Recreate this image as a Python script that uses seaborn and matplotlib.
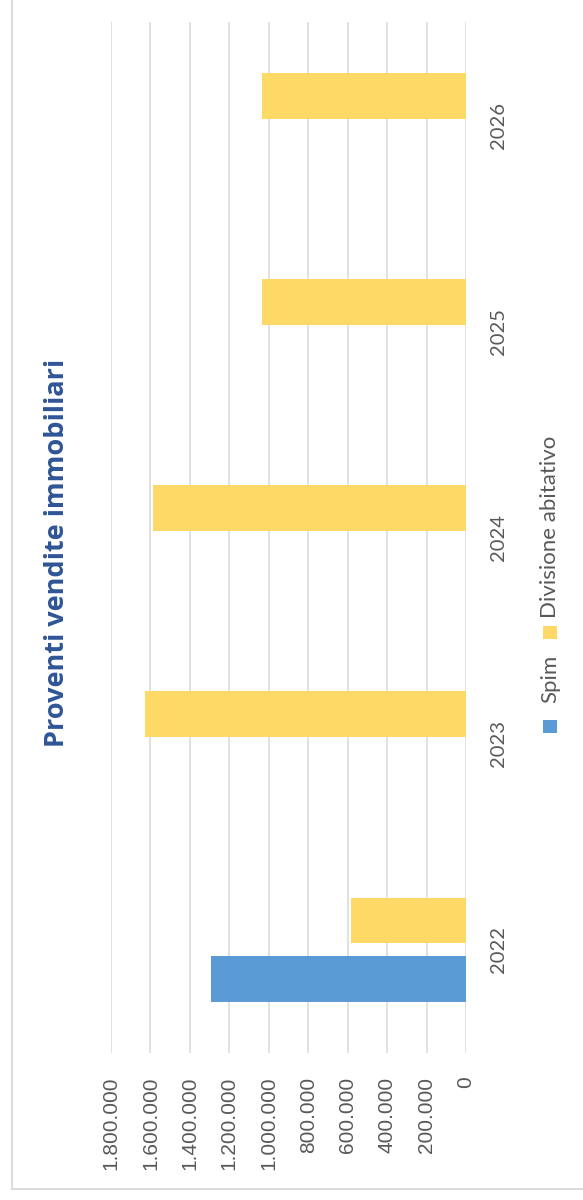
import matplotlib
matplotlib.use("Agg")
import matplotlib.pyplot as plt
from matplotlib.patches import Rectangle
from matplotlib.lines import Line2D
import seaborn as sns
import pandas as pd

# --- data -------------------------------------------------------------
anni = ["2022", "2023", "2024", "2025", "2026"]
spim = [1_293_000, None, None, None, None]
divisione_abitativo = [583_000, 1_628_000, 1_586_000, 1_035_000, 1_033_000]
serie = ["Spim", "Divisione abitativo"]
colori = {"Spim": "#5B9BD5", "Divisione abitativo": "#FFD966"}
titolo = "Proventi vendite immobiliari"
valori_asse = [0, 200_000, 400_000, 600_000, 800_000, 1_000_000,
               1_200_000, 1_400_000, 1_600_000, 1_800_000]

rows = []
for anno, s, d in zip(anni, spim, divisione_abitativo):
    if s is not None:
        rows.append({"anno": anno, "serie": "Spim", "valore": s})
    if d is not None:
        rows.append({"anno": anno, "serie": "Divisione abitativo", "valore": d})
df = pd.DataFrame(rows)

sns.set_theme(style="white")
plt.rcParams["font.family"] = ["Lato", "DejaVu Sans"]

W, H = 583, 1200
fig = plt.figure(figsize=(W / 100, H / 100), dpi=100)
fig.patch.set_facecolor("white")

def fx(px):
    return px / W

def fy(py):
    return 1 - py / H

# plot area (chart drawn rotated: values run right-to-left, years bottom-to-top)
ax = fig.add_axes([fx(111), fy(1053), fx(466) - fx(111), fy(22) - fy(1053)])

sns.barplot(
    data=df, x="valore", y="anno", hue="serie",
    order=anni[::-1], hue_order=["Divisione abitativo", "Spim"],
    palette=colori, orient="h", width=0.571, gap=0.22,
    saturation=1, legend=False, ax=ax, edgecolor="none", errorbar=None,
)

ax.set_xlim(1_800_000, 0)
ax.set_ylim(4.5, -0.5)
ax.set_xlabel("")
ax.set_ylabel("")
for sp in ax.spines.values():
    sp.set_visible(False)

ax.set_axisbelow(True)
ax.grid(axis="x", color="#D9D9D9", linewidth=1.1)
ax.grid(axis="y", visible=False)

ax.set_xticks(valori_asse)
ax.set_xticklabels([f"{v:,}".replace(",", ".") for v in valori_asse],
                   rotation=90, color="#595959", fontsize=15,
                   family=["Liberation Sans", "DejaVu Sans"])
ax.tick_params(axis="x", length=0, pad=17)
for lbl in ax.get_xticklabels():
    lbl.set_verticalalignment("top")
    lbl.set_horizontalalignment("center")

ax.yaxis.tick_right()
ax.set_yticks(range(len(anni)))
ax.set_yticklabels(anni[::-1], rotation=90, color="#595959", fontsize=14.5)
ax.tick_params(axis="y", length=0, pad=17)
for lbl in ax.get_yticklabels():
    lbl.set_verticalalignment("center")
    lbl.set_horizontalalignment("left")

# title
fig.text(fx(57), fy(553), titolo, rotation=90, ha="center", va="center",
         fontsize=19.5, fontweight="bold", color="#2F5597",
         family=["Open Sans", "DejaVu Sans"])

# legend
fig.add_artist(Rectangle((fx(543), fy(733)), fx(557) - fx(543), fy(720) - fy(733),
                         transform=fig.transFigure, facecolor=colori["Spim"],
                         edgecolor="none"))
fig.text(fx(550), fy(703), "Spim", rotation=90, ha="center", va="bottom",
         fontsize=16, color="#595959")
fig.add_artist(Rectangle((fx(543), fy(639)), fx(557) - fx(543), fy(626) - fy(639),
                         transform=fig.transFigure,
                         facecolor=colori["Divisione abitativo"], edgecolor="none"))
fig.text(fx(550), fy(618), "Divisione abitativo", rotation=90, ha="center",
         va="bottom", fontsize=16, color="#595959")

# chart frame
fig.add_artist(Line2D([fx(12), fx(12)], [fy(1189), 1.0], transform=fig.transFigure,
                      color="#D9D9D9", linewidth=1.3))
fig.add_artist(Line2D([fx(12), 1.0], [fy(1189), fy(1189)], transform=fig.transFigure,
                      color="#D9D9D9", linewidth=1.3))

fig.savefig("out.png", dpi=100, facecolor="white")
